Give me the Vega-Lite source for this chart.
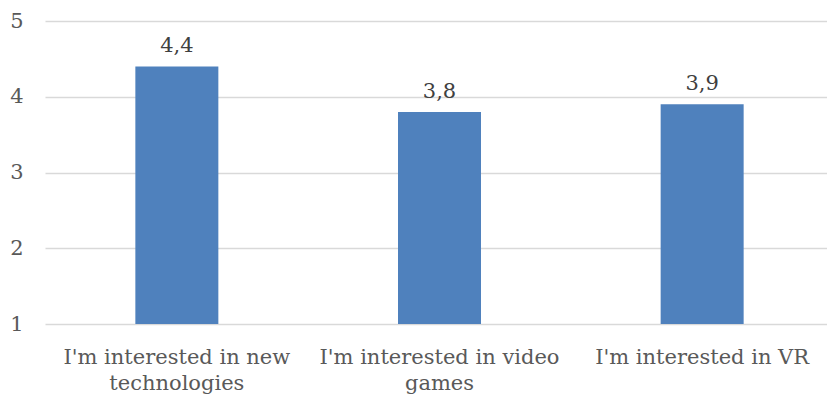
{
  "$schema": "https://vega.github.io/schema/vega-lite/v6.json",
  "autosize": "none",
  "width": 782,
  "height": 303,
  "padding": {"left": 45, "top": 21, "right": 0, "bottom": 70},
  "background": "white",
  "config": {
    "view": {"stroke": null},
    "locale": {"number": {"decimal": ",", "thousands": ".", "grouping": [3], "currency": ["", ""]}},
    "font": "DejaVu Serif"
  },
  "data": {
    "values": [
      {"item": "I'm interested in new technologies", "value": 4.4},
      {"item": "I'm interested in video games", "value": 3.8},
      {"item": "I'm interested in VR", "value": 3.9}
    ]
  },
  "encoding": {
    "x": {
      "field": "item", "type": "nominal", "sort": null,
      "scale": {"paddingInner": 0.684, "paddingOuter": 0.344, "range": [0, 789]},
      "axis": {
        "title": null, "labelAngle": 0, "ticks": false, "domain": false,
        "labelFont": "DejaVu Serif", "labelFontSize": 21, "labelColor": "#595959",
        "labelPadding": 22, "labelLineHeight": 26, "labelLimit": 400,
        "labelExpr": "datum.label == 'I\\'m interested in new technologies' ? ['I\\'m interested in new', 'technologies'] : datum.label == 'I\\'m interested in video games' ? ['I\\'m interested in video', 'games'] : datum.label"
      }
    },
    "y": {
      "field": "value", "type": "quantitative",
      "scale": {"domain": [1, 5], "nice": false, "zero": false},
      "axis": {
        "title": null, "values": [1, 2, 3, 4, 5], "ticks": false, "domain": false,
        "gridColor": "#d9d9d9", "gridWidth": 1.5,
        "labelFont": "DejaVu Serif", "labelFontSize": 21, "labelColor": "#595959",
        "labelPadding": 22
      }
    }
  },
  "layer": [
    {"mark": {"type": "bar", "color": "#4f81bd"}, "encoding": {"y2": {"datum": 1}}},
    {
      "mark": {"type": "text", "dy": -20, "font": "DejaVu Serif", "fontSize": 21, "color": "#404040"},
      "encoding": {"text": {"field": "value", "type": "quantitative", "format": ".1f"}}
    }
  ]
}
